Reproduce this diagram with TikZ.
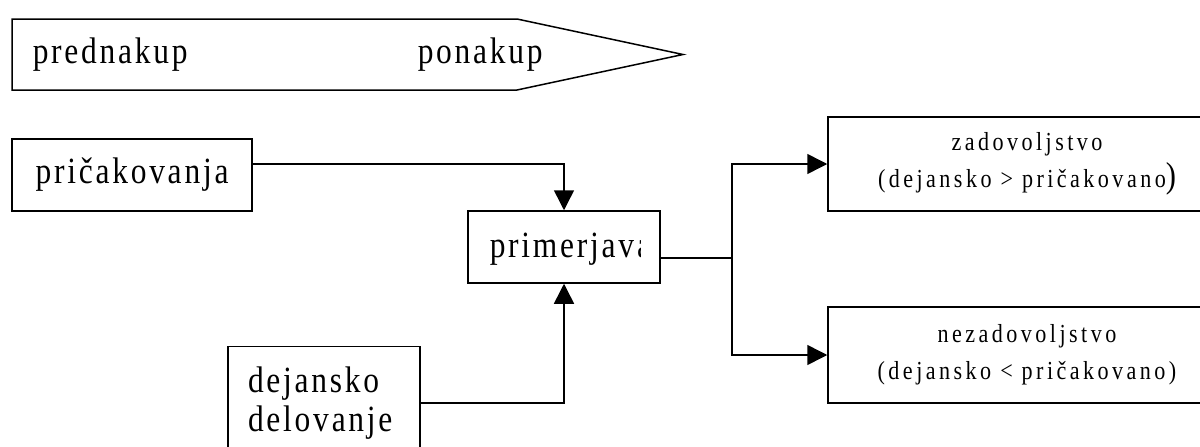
\documentclass[tikz,border=0pt]{standalone}
\usepackage{fontspec}
\setmainfont{Liberation Serif}
\newfontfamily\velika[FakeStretch=0.85,LetterSpace=7.5]{Liberation Serif}
\newfontfamily\mala[FakeStretch=0.85,LetterSpace=13.3]{Liberation Serif}
\usepackage{tikz}
\usetikzlibrary{arrows.meta}

\begin{document}
\begin{tikzpicture}[x=1pt, y=-1pt, line width=1.5pt,
    okvir/.style={draw, rectangle, inner sep=0pt},
    velikitekst/.style={font=\velika\fontsize{37}{39}\selectfont},
    malitekst/.style={font=\mala\fontsize{26}{37}\selectfont, align=center},
    pus/.style={-{Triangle[length=20pt, width=20pt]}}]
    \useasboundingbox (0,0) rectangle (1200,447);
    \clip (0,0) rectangle (1200,447);

    % Puscica zgoraj
    \draw (12,19) -- (517,19) -- (683,54.5) -- (517,90) -- (12,90) -- cycle;
    \node[velikitekst, anchor=base west, inner sep=0pt] (pred) at (32,63) {prednakup};
    \node[velikitekst, anchor=base west, inner sep=0pt] (po) at (417,63) {ponakup};

    % Okvirji
    \node[okvir, velikitekst, minimum width=240pt, minimum height=72pt] (pricak) at (132,175) {pričakovanja};
    \node[okvir, minimum width=192pt, minimum height=72pt] (primer) at (564,247) {};
    \begin{scope}
        \clip (468,211) rectangle (640,283);
        \node[velikitekst, anchor=base west, inner sep=0pt] (primtxt) at (489,257) {primerjava};
    \end{scope}
    \node[okvir, velikitekst, align=left, text width=152pt, inner sep=20pt,
          minimum width=192pt, minimum height=96pt] (dej) at (324,403) {dejansko\\delovanje};

    \node[okvir, malitekst, minimum width=398pt, minimum height=94pt] (zad) at (1027,164)
        {zadovoljstvo\\(dejansko > pričakovano{\fontsize{36}{37}\selectfont )}};
    \node[okvir, malitekst, minimum width=398pt, minimum height=96pt] (nezad) at (1027,355)
        {nezadovoljstvo\\(dejansko < pričakovano)};

    % Povezave
    \coordinate (razcep) at (732,258);
    \draw[pus] ([yshift=11pt]pricak.east) -| (primer.north);
    \draw[pus] (dej.east) -| (primer.south);
    \draw ([yshift=-11pt]primer.east) -- (razcep);
    \draw[pus] (razcep) |- (zad.west);
    \draw[pus] (razcep) |- (nezad.west);
\end{tikzpicture}
\end{document}
